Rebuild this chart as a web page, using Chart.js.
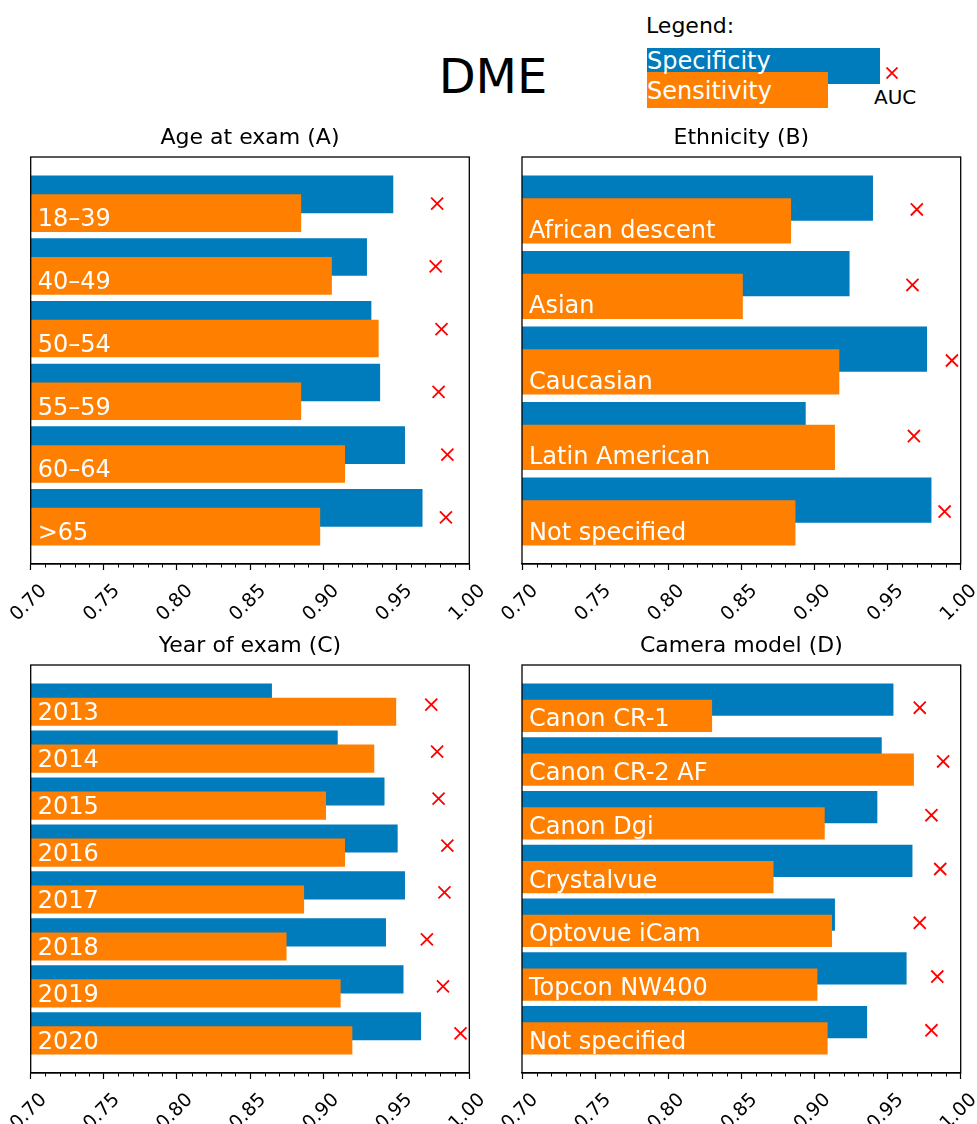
<!DOCTYPE html>
<html><head><meta charset="utf-8">
<script src="https://cdn.jsdelivr.net/npm/chart.js@4/dist/chart.umd.min.js"></script>
<style>
html,body{margin:0;padding:0;background:#fff;}
#page{position:relative;width:977px;height:1124px;overflow:hidden;font-family:'DejaVu Sans',sans-serif;color:#000;}
canvas{position:absolute;}
.t{position:absolute;line-height:1;white-space:nowrap;}
.r{position:absolute;}
</style></head><body><div id="page">
<div class="t" style="font-size:48px;left:0;width:986px;text-align:center;top:52px;">DME</div>
<div class="t" style="font-size:22px;left:646px;top:14.7px;">Legend:</div>
<div class="r" style="left:647px;top:48px;width:233px;height:36px;background:#007BBB"></div>
<div class="r" style="left:647px;top:72px;width:181px;height:36px;background:#FF7F00"></div>
<div class="t" style="font-size:24px;color:#fff;left:647px;top:49.2px;">Specificity</div>
<div class="t" style="font-size:24px;color:#fff;left:647px;top:79.2px;">Sensitivity</div>
<svg class="r" style="left:885.7px;top:66.7px" width="12" height="12"><path d="M0.5 0.5L11.5 11.5M11.5 0.5L0.5 11.5" stroke="#FF0000" stroke-width="1.8" fill="none"/></svg>
<div class="t" style="font-size:20px;left:874px;top:87px;">AUC</div>
<canvas id="cA" width="489" height="540" style="left:0;top:100px"></canvas>
<canvas id="cB" width="488" height="540" style="left:489px;top:100px"></canvas>
<canvas id="cC" width="489" height="524" style="left:0;top:600px"></canvas>
<canvas id="cD" width="488" height="524" style="left:489px;top:600px"></canvas>
</div>
<script>
// ---- data ----
const ageCats = ['18–39','40–49','50–54','55–59','60–64','>65'];
const ageSpec = [0.948,0.930,0.933,0.939,0.956,0.968];
const ageSens = [0.885,0.906,0.938,0.885,0.915,0.898];
const ageAuc  = [0.978,0.977,0.981,0.979,0.985,0.984];

const ethCats = ['African descent','Asian','Caucasian','Latin American','Not specified'];
const ethSpec = [0.940,0.924,0.977,0.894,0.980];
const ethSens = [0.884,0.851,0.917,0.914,0.887];
const ethAuc  = [0.970,0.967,0.994,0.968,0.989];

const yearCats = ['2013','2014','2015','2016','2017','2018','2019','2020'];
const yearSpec = [0.865,0.910,0.942,0.951,0.956,0.943,0.955,0.967];
const yearSens = [0.950,0.935,0.902,0.915,0.887,0.875,0.912,0.920];
const yearAuc  = [0.974,0.978,0.979,0.985,0.983,0.971,0.982,0.994];

const camCats = ['Canon CR-1','Canon CR-2 AF','Canon Dgi','Crystalvue','Optovue iCam','Topcon NW400','Not specified'];
const camSpec = [0.954,0.946,0.943,0.967,0.914,0.963,0.936];
const camSens = [0.830,0.968,0.907,0.872,0.912,0.902,0.909];
const camAuc  = [0.972,0.988,0.980,0.986,0.972,0.984,0.980];

const xTicks = [0.70,0.75,0.80,0.85,0.90,0.95,1.00];
const xMinorStep = 0.01;

const BLUE = '#007BBB', ORANGE = '#FF7F00', RED = '#FF0000';
Chart.defaults.font.family = "'DejaVu Sans'";
Chart.defaults.color = '#000';

function panel(id, title, cats, spec, sens, auc, g) {
  const n = cats.length;
  const span = n - 1 + 0.9;
  const yMin = -0.45 - 0.05 * span, yMax = n - 1 + 0.45 + 0.05 * span;
  const yAxis = () => ({type:'linear', display:false, reverse:true, min:yMin, max:yMax,
                         afterBuildTicks: s => { s.ticks = []; }});
  const plugins = [{
    id:'frame',
    afterDatasetsDraw(chart) {
      const ctx = chart.ctx, meta = chart.getDatasetMeta(1), a = chart.chartArea;
      ctx.save();
      ctx.fillStyle = '#fff'; ctx.font = "24px 'DejaVu Sans'";
      ctx.textAlign = 'left'; ctx.textBaseline = 'alphabetic';
      cats.forEach((c, i) => {
        const el = meta.data[i];
        const bottom = el.y + el.height / 2;
        ctx.fillText(c, a.left + 7, bottom - 5.5);
      });
      ctx.restore();
    },
    afterDraw(chart) {
      const ctx = chart.ctx, a = chart.chartArea, xs = chart.scales.x;
      ctx.save();
      ctx.strokeStyle = '#000'; ctx.lineWidth = 1.3;
      ctx.strokeRect(a.left, a.top, a.right - a.left, a.bottom - a.top);
      ctx.lineWidth = 1;
      const lo = xTicks[0], hi = xTicks[xTicks.length - 1];
      for (let k = 1; lo + k * xMinorStep < hi - 1e-9; k++) {
        if (k % 5 === 0) continue;
        const px = Math.round(xs.getPixelForValue(lo + k * xMinorStep)) + 0.5;
        ctx.beginPath(); ctx.moveTo(px, a.bottom); ctx.lineTo(px, a.bottom + 3.5); ctx.stroke();
      }
      ctx.restore();
    }
  }];
  new Chart(document.getElementById(id), {
    type: 'bar',
    data: {
      labels: cats,
      datasets: [
        {type:'bar', label:'Specificity', indexAxis:'y', xAxisID:'x', yAxisID:'yS',
         data: spec.map((v, i) => ({x:v, y:i - 0.15})), backgroundColor: BLUE,
         barPercentage:1, categoryPercentage:0.6, order:2},
        {type:'bar', label:'Sensitivity', indexAxis:'y', xAxisID:'x', yAxisID:'yN',
         data: sens.map((v, i) => ({x:v, y:i + 0.15})), backgroundColor: ORANGE,
         barPercentage:1, categoryPercentage:0.6, order:1},
        {type:'scatter', label:'AUC', xAxisID:'x', yAxisID:'yS',
         data: auc.map((v, i) => ({x:v, y:i})), pointStyle:'crossRot', pointRadius:8.5,
         pointBorderColor: RED, pointBackgroundColor: RED, pointBorderWidth:1.8, showLine:false,
         clip:false, order:0}
      ]
    },
    options: {
      responsive:false, animation:false, events:[],
      layout: {padding:{left:g.padL, right:g.padR, top:0, bottom:g.padB}},
      plugins: {
        legend:{display:false}, tooltip:{enabled:false},
        title: {display:true, text:title, fullSize:false, color:'#000',
                font:{size:22, weight:'normal', lineHeight:1.2},
                padding:{top:g.tTop, bottom:g.tBot}}
      },
      scales: {
        x: {type:'linear', min:xTicks[0], max:xTicks[xTicks.length-1], position:'bottom',
            offset:false, beginAtZero:false,
            afterBuildTicks: s => { s.ticks = xTicks.map(v => ({value:v})); },
            afterFit: s => { s.height = g.axisH; s.paddingLeft = 0; s.paddingRight = 0; },
            ticks: {autoSkip:false, minRotation:45, maxRotation:45, labelOffset:13, padding:10,
                    color:'#000', font:{size:19}, callback: v => Number(v).toFixed(2)},
            grid: {offset:false, drawOnChartArea:false, drawTicks:true, tickLength:6, tickColor:'#000', tickWidth:1.2},
            border: {display:true, color:'#000', width:1.3}},
        yS: yAxis(),
        yN: yAxis()
      }
    },
    plugins
  });
}

const gTopL = {padL:30.7, padR:19.7, padB:16, axisH:60, tTop:24.8, tBot:5.8};
const gTopR = {padL:33,   padR:16.3, padB:16, axisH:60, tTop:24.8, tBot:5.8};
const gBotL = {padL:30.7, padR:19.7, padB:0,  axisH:51, tTop:32.8, tBot:5.8};
const gBotR = {padL:33,   padR:16.3, padB:0,  axisH:51, tTop:32.8, tBot:5.8};

panel('cA', 'Age at exam (A)', ageCats, ageSpec, ageSens, ageAuc, gTopL);
panel('cB', 'Ethnicity (B)', ethCats, ethSpec, ethSens, ethAuc, gTopR);
panel('cC', 'Year of exam (C)', yearCats, yearSpec, yearSens, yearAuc, gBotL);
panel('cD', 'Camera model (D)', camCats, camSpec, camSens, camAuc, gBotR);
</script>
</body></html>
